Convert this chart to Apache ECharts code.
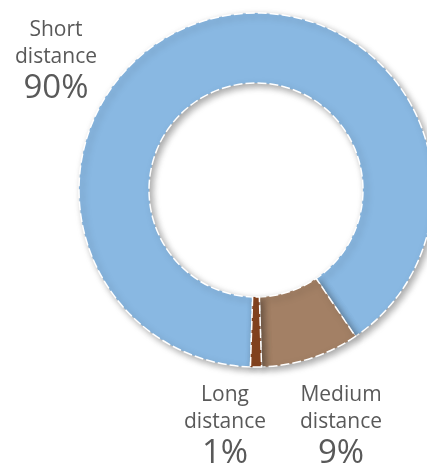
<!DOCTYPE html>
<html>
<head>
<meta charset="utf-8">
<script src="https://cdn.jsdelivr.net/npm/echarts@6/dist/echarts.min.js"></script>
<style>
  html, body { margin: 0; padding: 0; background: #fff; }
  #main { width: 427px; height: 468px; }
</style>
</head>
<body>
<div id="main"></div>
<script>
const categories = ['Short distance', 'Medium distance', 'Long distance'];
const shares = [90, 9, 1];
const sliceColors = ['#89b8e2', '#a38065', '#87441f'];
// centre of each label block
const labelAnchors = [[56, 62], [341, 427], [225, 427]];

const chart = echarts.init(document.getElementById('main'));
chart.setOption({
  animation: false,
  series: [{
    type: 'pie',
    center: [256, 190],
    radius: [107, 177],
    startAngle: 268.2,
    clockwise: true,
    avoidLabelOverlap: false,
    silent: true,
    data: categories.map((name, i) => ({
      name: name,
      value: shares[i],
      itemStyle: { color: sliceColors[i] }
    })),
    itemStyle: {
      borderColor: '#fff',
      borderWidth: 1.5,
      borderType: [9, 3],
      shadowBlur: 7,
      shadowColor: 'rgba(0,0,0,0.35)',
      shadowOffsetX: 3,
      shadowOffsetY: 3
    },
    label: {
      show: true,
      position: 'outside',
      align: 'center',
      formatter: p => p.name.split(' ').map(w => '{n|' + w + '}').join('\n') + '\n{p|' + p.value + '%}',
      rich: {
        n: { fontFamily: 'Open Sans', fontSize: 21, lineHeight: 27, color: '#595959' },
        p: { fontFamily: 'Open Sans', fontSize: 33, lineHeight: 37, color: '#595959' }
      }
    },
    labelLine: { show: false },
    labelLayout: p => ({
      x: labelAnchors[p.dataIndex][0],
      y: labelAnchors[p.dataIndex][1],
      align: 'center',
      verticalAlign: 'middle'
    })
  }]
});
</script>
</body>
</html>
